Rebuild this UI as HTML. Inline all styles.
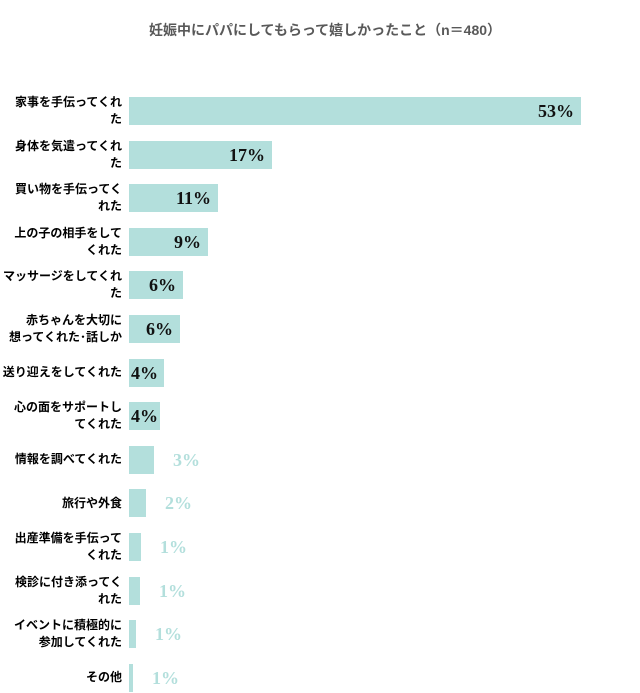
<!DOCTYPE html>
<html><head><meta charset="utf-8"><style>
body{margin:0;width:640px;height:693px;background:#fff;position:relative;overflow:hidden;font-family:"Liberation Sans","Noto Sans CJK JP",sans-serif}
.t{position:absolute;top:20px;left:0;width:650px;text-align:center;font-size:14px;font-weight:bold;color:#595959}
.l{position:absolute;right:518px;width:120px;text-align:right;font-size:12px;font-weight:bold;color:#000;line-height:17px}
.b{position:absolute;left:129px;height:28px;background:#b3dfdc}
.v{position:absolute;font-family:"Liberation Serif",serif;font-weight:bold;font-size:18px;line-height:20px}
</style></head><body>
<div class="t">妊娠中にパパにしてもらって嬉しかったこと（n＝480）</div>
<div id="c"></div>
<script>
var d=[["家事を手伝ってくれ<br>た",581,"53%",1],["身体を気遣ってくれ<br>た",272,"17%",1],["買い物を手伝ってく<br>れた",218,"11%",1],["上の子の相手をして<br>くれた",208,"9%",1],["マッサージをしてくれ<br>た",183,"6%",1],["赤ちゃんを大切に<br>想ってくれた･話しか",180,"6%",1],["送り迎えをしてくれた",164,"4%",2],["心の面をサポートし<br>てくれた",160,"4%",2],["情報を調べてくれた",154,"3%",0],["旅行や外食",146,"2%",0],["出産準備を手伝って<br>くれた",141,"1%",0],["検診に付き添ってく<br>れた",140,"1%",0],["イベントに積極的に<br>参加してくれた",136,"1%",0],["その他",133,"1%",0]];
var h="";
d.forEach(function(r,i){var cy=111+i*43.6;var two=r[0].indexOf("<br>")>0;
h+='<div class="l" style="top:'+(cy-(two?17:8.5))+'px">'+r[0]+'</div>';
h+='<div class="b" style="top:'+(cy-14)+'px;width:'+(r[1]-129)+'px"></div>';
if(r[3]==1)h+='<div class="v" style="top:'+(cy-10)+'px;right:'+(640-r[1]+7)+'px;color:#111">'+r[2]+'</div>';
else if(r[3]==2)h+='<div class="v" style="top:'+(cy-10)+'px;left:131px;color:#111">'+r[2]+'</div>';
else h+='<div class="v" style="top:'+(cy-10)+'px;left:'+(r[1]+19)+'px;color:#b3dfdc">'+r[2]+'</div>';});
document.getElementById("c").innerHTML=h;
</script>
</body></html>
